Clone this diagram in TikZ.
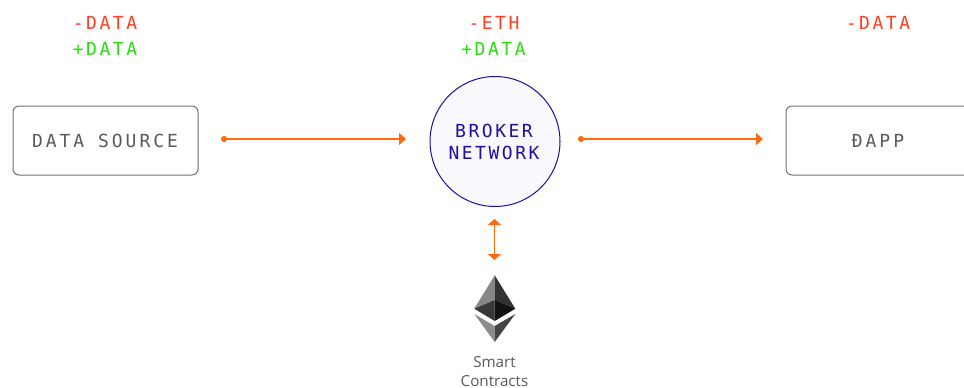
\documentclass[tikz,border=0pt]{standalone}
\usepackage{fontspec}
\setmainfont{Open Sans}
\newfontfamily\labelmono[LetterSpace=14]{DejaVu Sans Mono}
\newfontfamily\boxmono[LetterSpace=16.5]{DejaVu Sans Mono}
\usetikzlibrary{arrows.meta}
\definecolor{redtxt}{HTML}{FF3D1F}
\definecolor{greentxt}{HTML}{2ADB0F}
\definecolor{flow}{HTML}{FF6A0D}
\definecolor{navy}{HTML}{1E0FA0}
\definecolor{pale}{HTML}{F9F9FD}
\definecolor{graytxt}{HTML}{5A5A5A}
\tikzset{
  monotext/.style={font=\labelmono\fontsize{18}{18}\selectfont, inner sep=0pt, anchor=center},
  lost/.style={monotext, text=redtxt},
  gained/.style={monotext, text=greentxt},
  endbox/.style={draw=black!55, line width=1pt, rounded corners=6pt, fill=white},
  boxtext/.style={font=\boxmono\fontsize{18}{18}\selectfont, inner sep=0pt, anchor=center, text=graytxt},
  flowline/.style={draw=flow, line width=1.5pt, {Circle[length=6pt]}-{Triangle[length=7pt,width=12pt]}},
  twoway/.style={draw=flow, line width=1.5pt, {Triangle[length=6pt,width=13pt]}-{Triangle[length=6pt,width=13pt]}},
}
\begin{document}
\begin{tikzpicture}[x=1pt,y=-1pt]
\useasboundingbox (0,0) rectangle (964,388);
\clip (0,0) rectangle (964,388);
% boxes
\draw[endbox] (13,106) rectangle (198,175);
\node[boxtext] (src) at (105,141) {DATA SOURCE};
\draw[endbox] (786,106) rectangle (985,175);
\node[boxtext] (dapp) at (878,141) {ÐAPP};
\node[draw=navy, fill=pale, line width=1pt, circle, minimum size=130pt, inner sep=0pt] (broker) at (495,141.5) {};
\node[monotext, text=navy, align=center] (brokertext) at (494,142) {BROKER\\[4pt]NETWORK};
% top labels
\node[lost] (l1) at (105,23) {-DATA};
\node[gained] (g1) at (105,49) {+DATA};
\node[lost] (l2) at (494,23) {-ETH};
\node[gained] (g2) at (493.5,49) {+DATA};
\node[lost] (l3) at (878,23) {-DATA};
% connectors
\coordinate (a1) at (221,139);
\coordinate (a2) at (406,139);
\coordinate (b1) at (578,139);
\coordinate (b2) at (763,139);
\coordinate (c1) at (494.5,219);
\coordinate (c2) at (494.5,260);
\path[flowline] (a1) -- (a2);
\path[flowline] (b1) -- (b2);
\path[twoway] (c1) -- (c2);
% Ethereum mark
\fill[black!47] (494.7,275.3) -- (474.3,308.7) -- (494.7,300) -- cycle;
\fill[black!80] (494.7,275.3) -- (515.3,308.7) -- (494.7,300) -- cycle;
\fill[black!78] (474.3,308.7) -- (494.7,300) -- (494.7,321) -- cycle;
\fill[black!93] (515.3,308.7) -- (494.7,300) -- (494.7,321) -- cycle;
\fill[black!45] (474.3,314) -- (494.7,326) -- (494.7,342) -- cycle;
\fill[black!73] (515.3,314) -- (494.7,326) -- (494.7,342) -- cycle;
\node[font=\fontsize{15.2}{19}\selectfont, text=graytxt, align=center, inner sep=0pt] (sc) at (494.5,372) {Smart\\Contracts};
\end{tikzpicture}
\end{document}
